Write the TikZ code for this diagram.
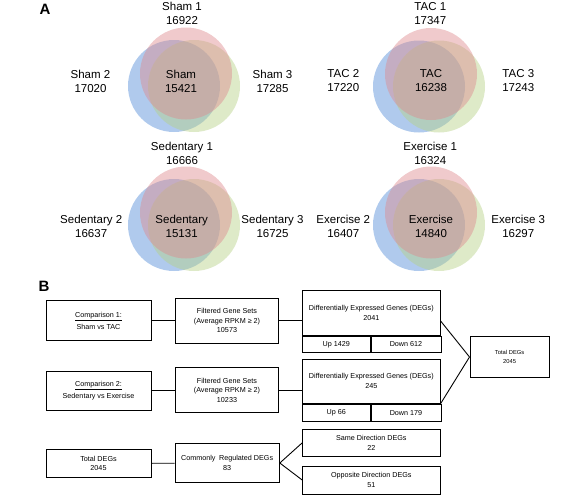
\documentclass[tikz,border=0pt]{standalone}
\usepackage{fontspec}
\setmainfont{Liberation Sans}
\usetikzlibrary{positioning}

\definecolor{vennred}{RGB}{222,138,142}
\definecolor{vennblue}{RGB}{80,138,214}
\definecolor{venngreen}{RGB}{182,208,134}

\begin{document}
\begin{tikzpicture}[x=1pt, y=-1pt,
  venn/.style={fill opacity=0.45},
  lbl/.style={font=\fontsize{11.5}{14}\selectfont, align=center, inner sep=0pt},
  panel/.style={font=\fontsize{15}{15}\selectfont\bfseries, inner sep=0pt},
  box/.style={draw, line width=1pt, align=center, inner sep=0pt, font=\fontsize{7.2}{9.5}\selectfont},
  cell/.style={box, minimum height=16.7pt},
  link/.style={line width=0.9pt}]

\useasboundingbox (0,0) rectangle (565,496);

% --- Panel A: diagramas de Venn ---
\foreach \vx/\vy in {186/73.5, 431/74, 186/212.5, 431/212.5} {
  \fill[vennblue, venn]  (\vx-12,\vy+12.5) circle (46pt);
  \fill[venngreen, venn] (\vx+8,\vy+12.5) circle (46pt);
  \fill[vennred, venn]   (\vx,\vy) circle (46pt);
}

% --- Textos de los conjuntos ---
\foreach \nm/\x/\y/\txt in {
  sham1/182/13.3/{Sham 1\\16922}, sham2/90.5/81.5/{Sham 2\\17020},
  sham/181/81.5/{Sham\\15421}, sham3/272.5/81.5/{Sham 3\\17285},
  tac1/430.3/13.3/{TAC 1\\17347}, tac2/343.3/81/{TAC 2\\17220},
  tac/431/81/{TAC\\16238}, tac3/518.3/81/{TAC 3\\17243},
  sed1/182/153/{Sedentary 1\\16666}, sed2/91.2/226.3/{Sedentary 2\\16637},
  sed/181.7/226.3/{Sedentary\\15131}, sed3/272.5/226.3/{Sedentary 3\\16725},
  ex1/430.3/153/{Exercise 1\\16324}, ex2/343.3/226.3/{Exercise 2\\16407},
  ex/431/226.3/{Exercise\\14840}, ex3/518.3/226.3/{Exercise 3\\16297}} {
  \node[lbl] (\nm) at (\x,\y) {\txt};
}

\node[panel] (A) at (45,9.5) {A};
\node[panel] (B) at (44,286.7) {B};

% --- Panel B: fila 1 ---
\node[box, minimum width=105pt, minimum height=40pt] (cmp1) at (98.5,320.7) {\underline{Comparison 1:}\\[3pt]Sham vs TAC};
\node[box, minimum width=102.6pt, minimum height=45pt] (fil1) at (227,320.8) {Filtered Gene Sets\\(Average RPKM ≥ 2)\\10573};
\node[box, minimum width=137.3pt, minimum height=44.3pt] (deg1) at (371.35,312.85) {Differentially Expressed Genes (DEGs)\\2041};
\node[cell, minimum width=67.3pt, below right=0pt and 0pt of deg1.south west] (up1) {Up 1429};
\node[cell, minimum width=70pt, right=0pt of up1] (down1) {Down 612};

% --- Panel B: fila 2 ---
\node[box, minimum width=105pt, minimum height=39pt] (cmp2) at (98.5,390.5) {\underline{Comparison 2:}\\[3pt]Sedentary vs Exercise};
\node[box, minimum width=102.6pt, minimum height=45.4pt] (fil2) at (227,390) {Filtered Gene Sets\\(Average RPKM ≥ 2)\\10233};
\node[box, minimum width=137.3pt, minimum height=44.3pt] (deg2) at (371.35,381.15) {Differentially Expressed Genes (DEGs)\\245};
\node[cell, minimum width=67.3pt, below right=0pt and 0pt of deg2.south west] (up2) {Up 66};
\node[cell, minimum width=70pt, right=0pt of up2] (down2) {Down 179};

\node[box, minimum width=79.3pt, minimum height=40.6pt, font=\fontsize{5.8}{8.5}\selectfont] (tot1) at (509.65,357) {Total DEGs\\2045};

% --- Panel B: fila 3 ---
\node[box, minimum width=105pt, minimum height=28.4pt] (tot2) at (98.5,463.5) {Total DEGs\\2045};
\node[box, minimum width=104.3pt, minimum height=39.4pt] (common) at (227.15,463) {Commonly\enspace Regulated DEGs\\83};
\node[box, minimum width=137.3pt, minimum height=27.7pt] (same) at (371.35,442.85) {Same Direction DEGs\\22};
\node[box, minimum width=137.3pt, minimum height=28pt] (opp) at (371.35,480) {Opposite Direction DEGs\\51};

% --- Conectores ---
\draw[link] (cmp1.east) -- (cmp1.east -| fil1.west);
\draw[link] (fil1.east) -- (fil1.east -| deg1.west);
\draw[link] (cmp2.east) -- (cmp2.east -| fil2.west);
\draw[link] (fil2.east) -- (fil2.east -| deg2.west);
\draw[link] (deg1.east |- fil1.east) -- (tot1.west) -- (deg2.south east);
\draw[link] (tot2) -- (common);
\draw[link] (same.west) -- (common.east) -- (opp.west);

\end{tikzpicture}
\end{document}
